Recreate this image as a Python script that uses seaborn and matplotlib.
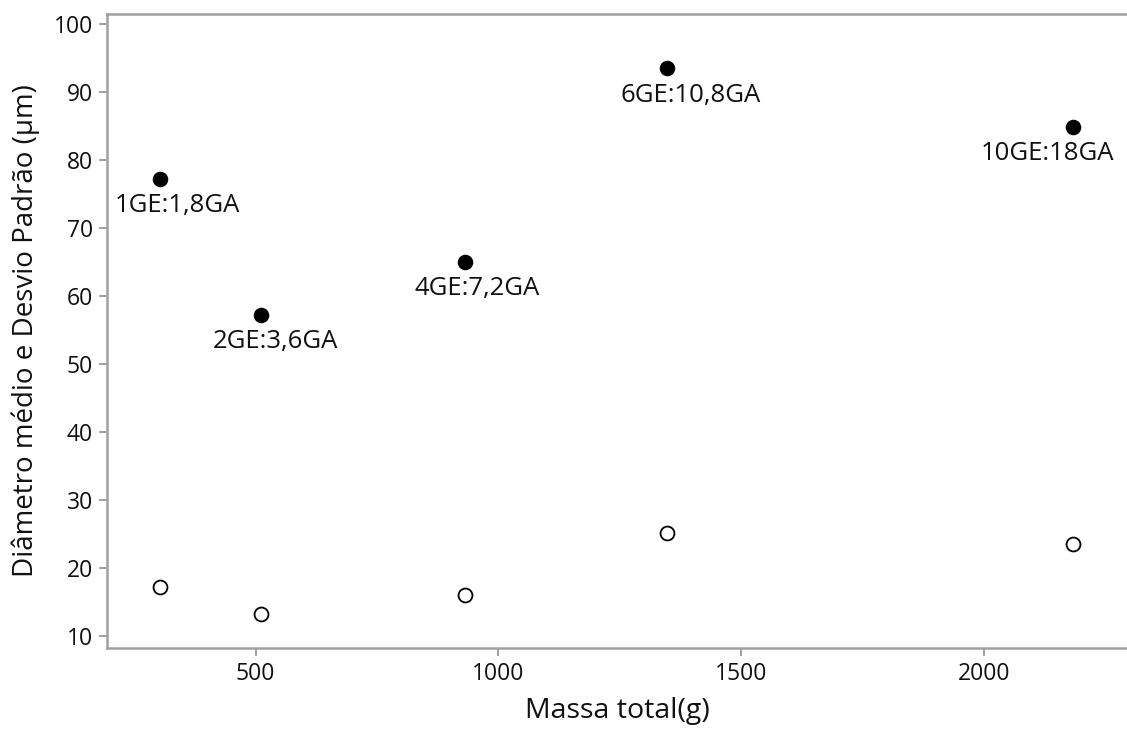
import matplotlib
matplotlib.use("Agg")
import matplotlib.pyplot as plt
import seaborn as sns
import pandas as pd

# Data
groups = ["1GE:1,8GA", "2GE:3,6GA", "4GE:7,2GA", "6GE:10,8GA", "10GE:18GA"]
massa_total = [303, 511, 931, 1348, 2183]
diametro_medio = [77.3, 57.3, 65.0, 93.5, 84.9]
desvio_padrao = [17.3, 13.3, 16.1, 25.2, 23.6]
x_ticks = [500, 1000, 1500, 2000]
y_ticks = [10, 20, 30, 40, 50, 60, 70, 80, 90, 100]

df = pd.DataFrame({"grupo": groups, "massa": massa_total,
                   "media": diametro_medio, "desvio": desvio_padrao})

sns.set_style("white")
plt.rcParams["font.family"] = ["Open Sans", "DejaVu Sans"]

fig = plt.figure(figsize=(11.27, 7.33), dpi=100)
ax = fig.add_axes([107 / 1127, 1 - 648 / 733, 1 - 107 / 1127, (648 - 14) / 733])

sns.scatterplot(data=df, x="massa", y="media", ax=ax, s=125, color="black",
                edgecolor="black", linewidth=0, zorder=3)
sns.scatterplot(data=df, x="massa", y="desvio", ax=ax, s=100, facecolor="white",
                edgecolor="black", linewidth=1.3, zorder=3)

# label offsets in pixels (dx, dy)
offsets = [(17, -27), (15, -27), (12, -26), (23, -27), (-25, -27)]
for g, xm, ym, (dx, dy) in zip(groups, massa_total, diametro_medio, offsets):
    ax.annotate(g, (xm, ym), xytext=(dx, dy), textcoords="offset pixels",
                ha="center", va="center", fontsize=18.5, color="#111111")

ax.set_xlim(194, 2295)
ax.set_ylim(8.3, 101.5)
ax.set_xticks(x_ticks)
ax.set_yticks(y_ticks)
ax.tick_params(axis="both", which="major", labelsize=16.5, colors="#999999",
               labelcolor="#111111", length=6, width=1.3, direction="out",
               left=True, bottom=True, pad=4)

for side in ["left", "bottom", "top"]:
    ax.spines[side].set_color("#a0a0a0")
    ax.spines[side].set_linewidth(1.8)
ax.spines["right"].set_visible(False)

ax.set_xlabel("Massa total(g)", fontsize=20.5, color="#111111", labelpad=8)
ax.set_ylabel("Diâmetro médio e Desvio Padrão (μm)", fontsize=20,
              color="#111111", labelpad=10)

fig.savefig("out.png", dpi=100)
